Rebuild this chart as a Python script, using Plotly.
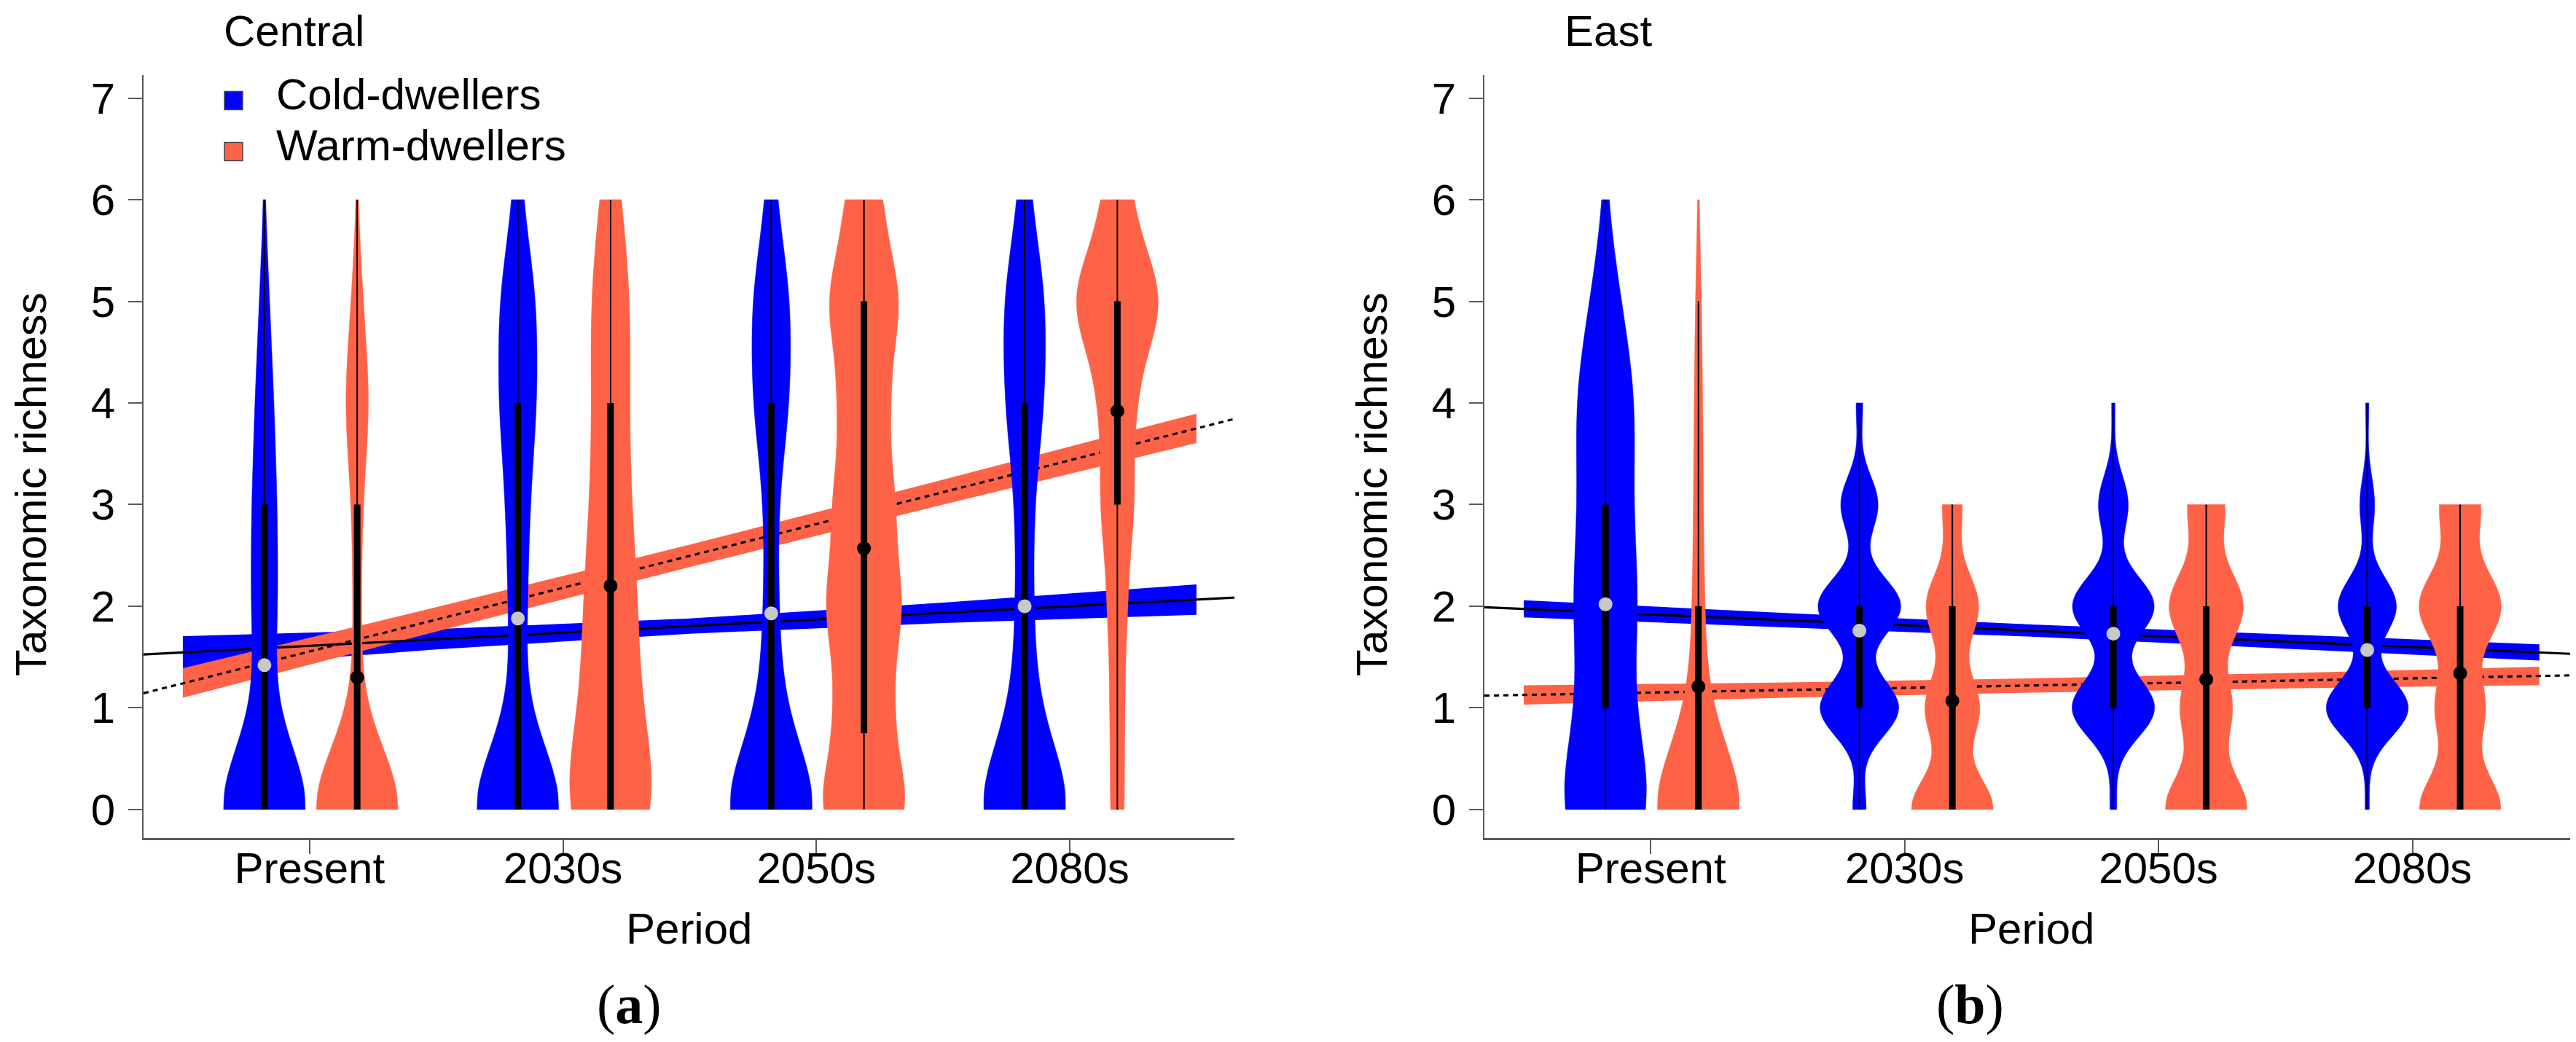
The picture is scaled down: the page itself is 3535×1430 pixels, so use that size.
import numpy as np
import plotly.graph_objects as go

# ---------------- data ----------------
periods = ["Present", "2030s", "2050s", "2080s"]
period_pos = [1, 2, 3, 4]
levels = [0, 1, 2, 3, 4, 5, 6]          # taxonomic richness levels
groups = ["Cold-dwellers", "Warm-dwellers"]
regions = ["Central", "East"]
y_ticks = [0, 1, 2, 3, 4, 5, 6, 7]

# relative number of sites at each richness level (0..6), per period
central_cold_counts = [[92, 12, 22, 20, 15, 8, 1],
                       [90, 10, 15, 18, 30, 30, 7],
                       [90, 18, 12, 10, 30, 32, 8],
                       [90, 20, 14, 14, 32, 35, 10]]
central_warm_counts = [[95, 5, 7, 8, 22, 9, 1],
                       [80, 38, 40, 28, 25, 30, 15],
                       [75, 45, 63, 50, 40, 60, 30],
                       [15, 15, 20, 35, 36, 95, 30]]
east_cold_counts = [[90, 30, 55, 35, 50, 22, 1],
                    [16, 95, 100, 45, 8, 0, 0],
                    [8, 100, 99, 36, 4, 0, 0],
                    [5, 100, 71, 18, 4, 0, 0]]
east_warm_counts = [[95, 15, 10, 8, 7, 5, 1],
                    [100, 66, 64, 24, 0, 0, 0],
                    [100, 62, 90, 45, 0, 0, 0],
                    [100, 60, 100, 50, 0, 0, 0]]

# kernel bandwidths of the violins
central_cold_bw = [0.6, 0.6, 0.6, 0.6]
central_warm_bw = [0.6, 0.7, 0.5, 0.5]
east_cold_bw = [0.7, 0.28, 0.29, 0.28]
east_warm_bw = [0.6, 0.33, 0.35, 0.35]

# box statistics: lower quartile, upper quartile, whisker ends, mean
central_cold_q1 = [0, 0, 0, 0]
central_cold_q3 = [3, 4, 4, 4]
central_cold_lo = [0, 0, 0, 0]
central_cold_hi = [6, 6, 6, 6]
central_cold_mean = [1.42, 1.88, 1.93, 2.00]
central_warm_q1 = [0, 0, 0.75, 3]
central_warm_q3 = [3, 4, 5, 5]
central_warm_lo = [0, 0, 0, 0]
central_warm_hi = [6, 6, 6, 6]
central_warm_mean = [1.30, 2.20, 2.57, 3.92]
east_cold_q1 = [1, 1, 1, 1]
east_cold_q3 = [3, 2, 2, 2]
east_cold_lo = [0, 0, 0, 0]
east_cold_hi = [6, 4, 4, 4]
east_cold_mean = [2.02, 1.76, 1.73, 1.57]
east_warm_q1 = [0, 0, 0, 0]
east_warm_q3 = [2, 2, 2, 2]
east_warm_lo = [0, 0, 0, 0]
east_warm_hi = [5, 3, 3, 3]
east_warm_mean = [1.21, 1.07, 1.28, 1.34]

# regression lines (values at the two ends of the axis) and confidence bands
line_x = [0.345, 4.65]
central_cold_line = [1.525, 2.085]
central_warm_line = [1.144, 3.843]
east_cold_line = [1.990, 1.529]
east_warm_line = [1.120, 1.321]

band_x = [0.5, 1.5, 2.5, 3.5, 4.5]
central_cold_band_lo = [1.385, 1.575, 1.730, 1.835, 1.915]
central_cold_band_hi = [1.705, 1.775, 1.880, 2.035, 2.215]
central_warm_band_lo = [1.100, 1.750, 2.385, 3.000, 3.605]
central_warm_band_hi = [1.390, 1.990, 2.605, 3.245, 3.895]
east_cold_band_lo = [1.890, 1.797, 1.700, 1.583, 1.466]
east_cold_band_hi = [2.059, 1.937, 1.820, 1.723, 1.626]
east_warm_band_lo = [1.032, 1.099, 1.150, 1.192, 1.224]
east_warm_band_hi = [1.222, 1.249, 1.290, 1.342, 1.404]

# ---------------- styling ----------------
W, H = 3535, 1430
BLUE = "#0000FF"
ORANGE = "#FF6347"
DOT_GREY = "#C8C8C8"
AXC = "#5a5a5a"
FONT = "Liberation Sans, Arial, sans-serif"
SERIF = "Liberation Serif, Times New Roman, serif"
XR = [0.345, 4.65]
YR = [-0.28, 7.226]
VW = 0.322
OFF = {"cold": -0.178, "warm": 0.188}
DY = 9  # visual offset correction for annotation text

panels = [
    dict(key="a", region=regions[0], left=189, right=1686,
         base=("x", "y"), over=("x3", "y3"),
         cold=dict(counts=central_cold_counts, bw=central_cold_bw, q1=central_cold_q1, q3=central_cold_q3,
                   lo=central_cold_lo, hi=central_cold_hi, mean=central_cold_mean, line=central_cold_line,
                   blo=central_cold_band_lo, bhi=central_cold_band_hi),
         warm=dict(counts=central_warm_counts, bw=central_warm_bw, q1=central_warm_q1, q3=central_warm_q3,
                   lo=central_warm_lo, hi=central_warm_hi, mean=central_warm_mean, line=central_warm_line,
                   blo=central_warm_band_lo, bhi=central_warm_band_hi)),
    dict(key="b", region=regions[1], left=2029, right=3529,
         base=("x2", "y2"), over=("x4", "y4"),
         cold=dict(counts=east_cold_counts, bw=east_cold_bw, q1=east_cold_q1, q3=east_cold_q3,
                   lo=east_cold_lo, hi=east_cold_hi, mean=east_cold_mean, line=east_cold_line,
                   blo=east_cold_band_lo, bhi=east_cold_band_hi),
         warm=dict(counts=east_warm_counts, bw=east_warm_bw, q1=east_warm_q1, q3=east_warm_q3,
                   lo=east_warm_lo, hi=east_warm_hi, mean=east_warm_mean, line=east_warm_line,
                   blo=east_warm_band_lo, bhi=east_warm_band_hi)),
]

fig = go.Figure()
colors = {"cold": BLUE, "warm": ORANGE}
dot_colors = {"cold": DOT_GREY, "warm": "black"}
line_dash = {"cold": "solid", "warm": "7px,6px"}

for p in panels:
    bx, by = p["base"]
    ox, oy = p["over"]
    # confidence bands (base layer)
    for g in ("cold", "warm"):
        d = p[g]
        fig.add_trace(go.Scatter(
            x=band_x + band_x[::-1], y=d["blo"] + d["bhi"][::-1],
            fill="toself", fillcolor=colors[g], mode="lines", line=dict(width=0),
            hoverinfo="skip", showlegend=False, xaxis=bx, yaxis=by))
    # regression lines
    for g in ("cold", "warm"):
        d = p[g]
        fig.add_trace(go.Scatter(
            x=line_x, y=d["line"], mode="lines",
            line=dict(color="black", width=3.2, dash=line_dash[g]),
            hoverinfo="skip", showlegend=False, xaxis=bx, yaxis=by))
    # violins (overlay layer)
    for g in ("cold", "warm"):
        d = p[g]
        for i, pos in enumerate(period_pos):
            samples = np.repeat(levels, d["counts"][i]).astype(float)
            fig.add_trace(go.Violin(
                x0=pos + OFF[g], y=samples, width=VW, scalemode="width",
                scalegroup=f"{p['key']}_{g}_{i}", spanmode="hard", bandwidth=d["bw"][i],
                points=False, box_visible=False, meanline_visible=False,
                fillcolor=colors[g], line=dict(color=colors[g], width=0.5), opacity=1,
                hoverinfo="skip", showlegend=False, xaxis=ox, yaxis=oy))
    # whiskers, quartile bars and means
    for g in ("cold", "warm"):
        d = p[g]
        wx, wy, qx, qy = [], [], [], []
        for i, pos in enumerate(period_pos):
            x = pos + OFF[g]
            wx += [x, x, None]
            wy += [d["lo"][i], d["hi"][i], None]
            qx += [x, x, None]
            qy += [d["q1"][i], d["q3"][i], None]
        fig.add_trace(go.Scatter(x=wx, y=wy, mode="lines", line=dict(color="black", width=2),
                                 hoverinfo="skip", showlegend=False, xaxis=ox, yaxis=oy))
        fig.add_trace(go.Scatter(x=qx, y=qy, mode="lines", line=dict(color="black", width=9),
                                 hoverinfo="skip", showlegend=False, xaxis=ox, yaxis=oy))
        fig.add_trace(go.Scatter(x=[pp + OFF[g] for pp in period_pos], y=d["mean"], mode="markers",
                                 marker=dict(color=dot_colors[g], size=19, line=dict(width=0)),
                                 hoverinfo="skip", showlegend=False, xaxis=ox, yaxis=oy))

y_dom = [(H - 1142) / H, (H - 95) / H]
layout = dict(
    width=W, height=H, margin=dict(l=0, r=0, t=0, b=0),
    paper_bgcolor="white", plot_bgcolor="white",
    font=dict(family=FONT, size=60, color="black"),
    violinmode="overlay", violingap=0, violingroupgap=0,
    showlegend=False,
)
axis_common_x = dict(type="linear", range=XR, tickvals=period_pos, ticktext=periods,
                     showline=True, linecolor=AXC, linewidth=3, ticks="outside", ticklen=19,
                     tickwidth=2, tickcolor=AXC, tickfont=dict(size=60, family=FONT, color="black"),
                     ticklabelstandoff=-32, showgrid=False, zeroline=False)
axis_common_y = dict(range=YR, tickvals=y_ticks, showline=True, linecolor=AXC, linewidth=2,
                     ticks="outside", ticklen=19, tickwidth=2, tickcolor=AXC,
                     tickfont=dict(size=60, family=FONT, color="black"), ticklabelstandoff=6,
                     showgrid=False, zeroline=False, domain=y_dom)
hidden = dict(visible=False, showgrid=False, zeroline=False)

layout["xaxis"] = dict(axis_common_x, domain=[189 / W, 1686 / W], anchor="y")
layout["yaxis"] = dict(axis_common_y, anchor="x")
layout["xaxis2"] = dict(axis_common_x, domain=[2029 / W, 3529 / W], anchor="y2")
layout["yaxis2"] = dict(axis_common_y, anchor="x2")
layout["xaxis3"] = dict(hidden, type="linear", range=XR, overlaying="x", anchor="y3")
layout["yaxis3"] = dict(hidden, range=YR, overlaying="y", anchor="x3")
layout["xaxis4"] = dict(hidden, type="linear", range=XR, overlaying="x2", anchor="y4")
layout["yaxis4"] = dict(hidden, range=YR, overlaying="y2", anchor="x4")

annotations = []
shapes = []
for p in panels:
    L, R = p["left"], p["right"]
    annotations.append(dict(text=p["region"], x=(L + 108) / W, y=(H - 43 + DY) / H, xref="paper", yref="paper",
                            xanchor="left", yanchor="middle", showarrow=False, font=dict(size=60, family=FONT)))
    annotations.append(dict(text="Taxonomic richness", x=(L - 154) / W, y=(H - 657) / H, xref="paper",
                            yref="paper", textangle=-90, xanchor="center", yanchor="middle", showarrow=False,
                            font=dict(size=60, family=FONT)))
    annotations.append(dict(text="Period", x=((L + R) / 2) / W, y=(H - 1275 + DY) / H, xref="paper",
                            yref="paper", xanchor="center", yanchor="middle", showarrow=False,
                            font=dict(size=60, family=FONT)))
    annotations.append(dict(text=f"(<b>{p['key']}</b>)", x=(L + 666) / W, y=(H - 1370) / H, xref="paper",
                            yref="paper", xanchor="center", yanchor="middle", showarrow=False,
                            font=dict(size=76, family=SERIF)))

# legend (Central panel)
for k, (g, lab) in enumerate(zip(("cold", "warm"), groups)):
    yc = 130 + 70 * k
    shapes.append(dict(type="rect", xref="paper", yref="paper", x0=300 / W, x1=325 / W,
                       y0=(H - (yc + 12.5)) / H, y1=(H - (yc - 12.5)) / H,
                       fillcolor=colors[g], line=dict(color="#444444", width=1.5)))
    annotations.append(dict(text=lab, x=369 / W, y=(H - yc + DY) / H, xref="paper", yref="paper",
                            xanchor="left", yanchor="middle", showarrow=False, font=dict(size=60, family=FONT)))

layout["annotations"] = annotations
layout["shapes"] = shapes
fig.update_layout(**layout)
fig.write_html("out.html")
